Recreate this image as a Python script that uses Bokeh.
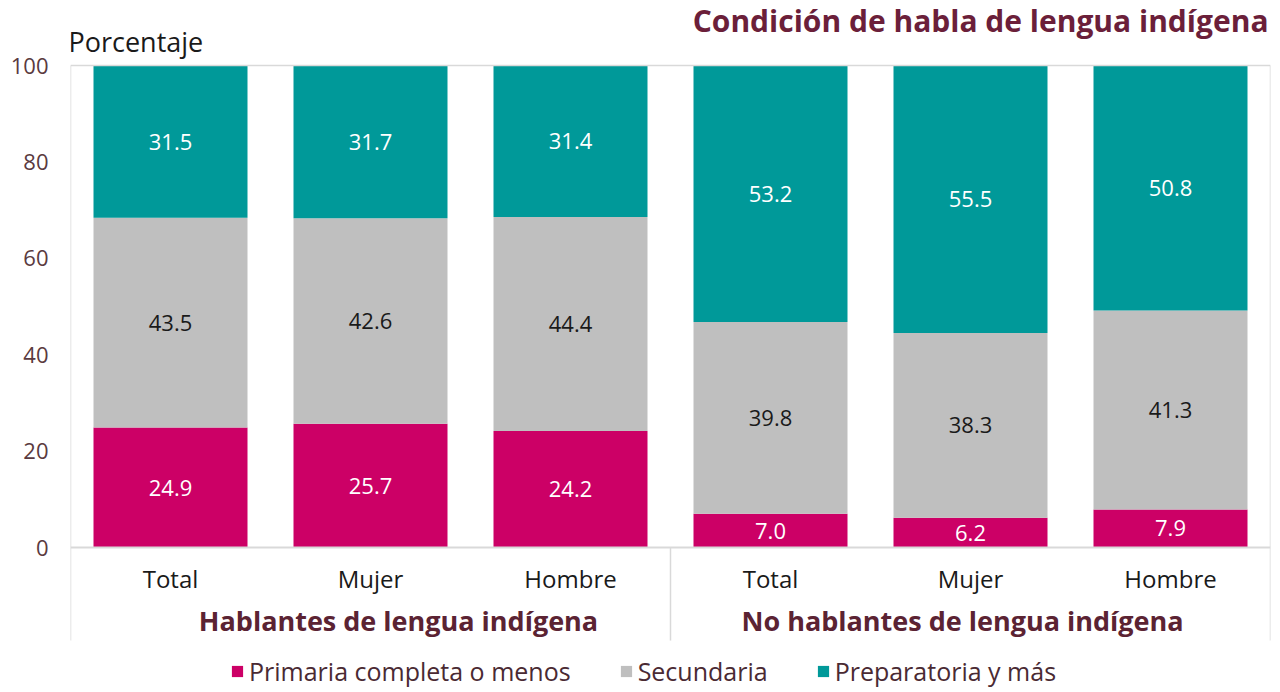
from bokeh.plotting import figure
from bokeh.models import (FactorRange, Range1d, ColumnDataSource, LinearAxis,
                          FixedTicker, Span, Label, Legend, LegendItem)
from bokeh.core.properties import value
from bokeh.embed import file_html
from bokeh.resources import INLINE

groups = ["Hablantes de lengua indígena", "No hablantes de lengua indígena"]
sexes = ["Total", "Mujer", "Hombre"]
series = ["Primaria completa o menos", "Secundaria", "Preparatoria y más"]
primaria = [24.9, 25.7, 24.2, 7.0, 6.2, 7.9]
secundaria = [43.5, 42.6, 44.4, 39.8, 38.3, 41.3]
preparatoria = [31.5, 31.7, 31.4, 53.2, 55.5, 50.8]
yticks = [0, 20, 40, 60, 80, 100]
title_text = "Condición de habla de lengua indígena"
ylabel_text = "Porcentaje"

colors = ["#CC0066", "#BFBFBF", "#009999"]
label_colors = ["#FFFFFF", "#1A1A1A", "#FFFFFF"]
FONT = "Open Sans"
GRID = "#D9D9D9"
W, H = 1276, 688
YMIN = -29.25         # room below zero for axis labels and legend
YMAX = 113.5          # room above 100 for the titles
LINE_BOTTOM = -19.3   # where the vertical frame lines stop
CAT_Y = -6.4          # category label line
GROUP_Y = -15.1       # group label line
GROUP_DX = [28, -8]   # horizontal nudges of the group labels (px)
TITLE_Y = 109.3
YLABEL_Y = 105.0

factors = [(g, s) for g in groups for s in sexes]
src = ColumnDataSource(dict(x=factors, primaria=primaria, secundaria=secundaria,
                            preparatoria=preparatoria))

p = figure(width=W, height=H,
           x_range=FactorRange(*factors, group_padding=0, factor_padding=0, range_padding=0),
           y_range=Range1d(YMIN, YMAX),
           x_axis_location=None, y_axis_location=None,
           toolbar_location=None, output_backend="svg",
           min_border_left=70, min_border_right=W - 1270, min_border_top=0, min_border_bottom=0)
p.grid.visible = False
p.outline_line_color = None
p.background_fill_color = None
p.border_fill_color = "white"

renderers = p.vbar_stack(["primaria", "secundaria", "preparatoria"], x="x", width=0.77,
                         color=colors, line_color=None, source=src)

# segment labels
lx, ly, lt, lc = [], [], [], []
for i, f in enumerate(factors):
    base = 0.0
    for vals, col in zip([primaria, secundaria, preparatoria], label_colors):
        v = vals[i]
        lx.append(f)
        ly.append(base + v / 2)
        lt.append(f"{v:.1f}")
        lc.append(col)
        base += v
lsrc = ColumnDataSource(dict(x=lx, y=ly, t=lt, c=lc))
p.text(x="x", y="y", text="t", text_color="c", source=lsrc, text_align="center",
       text_baseline="middle", text_font=value(FONT), text_font_size=value("22px"))

# y axis
yaxis = LinearAxis(ticker=FixedTicker(ticks=yticks), major_tick_line_color=None,
                   minor_tick_line_color=None, axis_line_color=None,
                   major_label_text_font=FONT, major_label_text_font_size="22px",
                   major_label_text_color="#5A3A40", major_label_standoff=16)
p.add_layout(yaxis, "left")

# category and group labels (x axis)
csrc = ColumnDataSource(dict(x=factors, y=[CAT_Y] * len(factors), t=[f[1] for f in factors]))
p.text(x="x", y="y", text="t", source=csrc, text_align="center", text_baseline="middle",
       text_font=value(FONT), text_font_size=value("24px"), text_color="#1A1A1A")
gsrc = ColumnDataSource(dict(x=groups, y=[GROUP_Y] * len(groups), t=groups, dx=GROUP_DX))
p.text(x="x", y="y", text="t", source=gsrc, x_offset="dx", text_align="center",
       text_baseline="middle", text_font=value(FONT), text_font_size=value("27px"),
       text_font_style="bold", text_color="#5B2333")

# frame lines
p.add_layout(Span(location=0, dimension="width", line_color=GRID, line_width=2))
left_edge = (groups[0], sexes[0], -0.5)
mid_edge = (groups[1], sexes[0], -0.5)
right_edge = (groups[1], sexes[-1], 0.5)
p.segment(x0=[left_edge], y0=[100], x1=[right_edge], y1=[100], line_color=GRID, line_width=1.5)
p.segment(x0=[left_edge, right_edge], y0=[LINE_BOTTOM, LINE_BOTTOM],
          x1=[left_edge, right_edge], y1=[100, 100], line_color=GRID, line_width=1.5)
p.segment(x0=[mid_edge], y0=[LINE_BOTTOM], x1=[mid_edge], y1=[0],
          line_color=GRID, line_width=1.5)

# titles
p.add_layout(Label(x=len(factors), y=TITLE_Y, text=title_text, text_align="right",
                   text_baseline="middle", text_font=FONT, text_font_size="30px",
                   text_font_style="bold", text_color="#6B1F3A", x_offset=-2))
p.add_layout(Label(x=0, y=YLABEL_Y, text=ylabel_text, text_align="left",
                   text_baseline="middle", text_font=FONT, text_font_size="27px",
                   text_color="#1A1A1A", x_offset=-2))

legend = Legend(items=[LegendItem(label=s, renderers=[r]) for s, r in zip(series, renderers)],
                orientation="horizontal", location=(160, 0), label_text_font=FONT,
                label_text_font_size="25px", label_text_color="#4A2A33", glyph_width=14,
                glyph_height=14, spacing=48, label_standoff=5, border_line_color=None,
                background_fill_alpha=0, padding=0, margin=0)
p.add_layout(legend)

open("out.html", "w").write(file_html(p, INLINE))
